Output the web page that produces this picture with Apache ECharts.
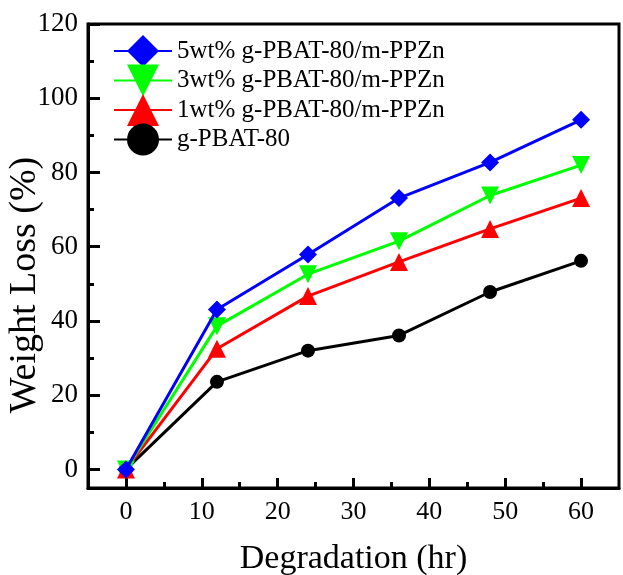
<!DOCTYPE html>
<html>
<head>
<meta charset="utf-8">
<script src="https://cdn.jsdelivr.net/npm/echarts@6/dist/echarts.min.js"></script>
<style>
  html, body { margin: 0; padding: 0; background: #fff; }
  #chart { width: 623px; height: 575px; }
</style>
</head>
<body>
<div id="chart"></div>
<script>
// degradation time (hr)
const hours = [0, 12, 24, 36, 48, 60];
// weight loss (%) per sample
const pbat5 = [0, 43.1, 57.9, 73.1, 82.7, 94.2];
const pbat3 = [0, 38.6, 52.6, 61.5, 73.8, 82.0];
const pbat1 = [0, 32.5, 46.7, 55.9, 64.8, 73.1];
const pbat0 = [0, 23.6, 32.0, 36.1, 47.8, 56.2];
const seriesNames = ['5wt% g-PBAT-80/m-PPZn', '3wt% g-PBAT-80/m-PPZn', '1wt% g-PBAT-80/m-PPZn', 'g-PBAT-80'];
const xTicks = [0, 10, 20, 30, 40, 50, 60];
const xMinor = [5, 15, 25, 35, 45, 55];
const yTicks = [0, 20, 40, 60, 80, 100, 120];
const yMinor = [10, 30, 50, 70, 90, 110];

const font = '"Liberation Serif", "Times New Roman", serif';

function pairs(vals) {
  return hours.map((h, i) => [h, vals[i]]);
}

function tick(len, values) {
  return { show: true, inside: true, length: len, customValues: values, lineStyle: { color: '#000', width: 3 } };
}

const chart = echarts.init(document.getElementById('chart'));

chart.setOption({
  animation: false,
  backgroundColor: '#fff',
  textStyle: { fontFamily: font },
  grid: {
    left: 88, right: 4, top: 24, bottom: 87,
    containLabel: false, outerBoundsMode: 'none',
    show: true, borderColor: '#000', borderWidth: 3, backgroundColor: 'transparent'
  },
  legend: {
    data: seriesNames,
    orient: 'vertical',
    left: 113, top: 35, padding: 0,
    itemWidth: 58, itemHeight: 40, itemGap: -2.5,
    textStyle: { fontFamily: font, fontSize: 25, color: '#000' }
  },
  xAxis: [
    {
      type: 'value', min: -5, max: 65,
      name: 'Degradation (hr)', nameLocation: 'middle', nameGap: 54, nameMoveOverlap: false,
      nameTextStyle: { fontFamily: font, fontSize: 34, color: '#000' },
      axisLine: { show: true, onZero: false, lineStyle: { color: '#000', width: 3 } },
      axisTick: tick(10, xTicks),
      axisLabel: { customValues: xTicks, fontFamily: font, fontSize: 26, color: '#000', margin: 11 },
      splitLine: { show: false }
    },
    {
      type: 'value', min: -5, max: 65, position: 'bottom',
      axisLine: { show: false, onZero: false },
      axisTick: tick(6, xMinor),
      axisLabel: { show: false },
      splitLine: { show: false }
    }
  ],
  yAxis: [
    {
      type: 'value', min: -5, max: 120,
      name: 'Weight Loss (%)', nameLocation: 'middle', nameGap: 44, nameMoveOverlap: false,
      nameTextStyle: { fontFamily: font, fontSize: 38, color: '#000', padding: [0, 58, 0, 0] },
      axisLine: { show: true, onZero: false, lineStyle: { color: '#000', width: 3 } },
      axisTick: tick(12, yTicks),
      axisLabel: { customValues: yTicks, fontFamily: font, fontSize: 27, color: '#000', margin: 10 },
      splitLine: { show: false }
    },
    {
      type: 'value', min: -5, max: 120, position: 'left',
      axisLine: { show: false, onZero: false },
      axisTick: tick(6, yMinor),
      axisLabel: { show: false },
      splitLine: { show: false }
    }
  ],
  series: [
    {
      name: seriesNames[3], type: 'line', data: pairs(pbat0),
      symbol: 'circle', symbolSize: 14,
      itemStyle: { color: '#000' }, lineStyle: { color: '#000', width: 3 }, z: 2
    },
    {
      name: seriesNames[2], type: 'line', data: pairs(pbat1),
      symbol: 'triangle', symbolSize: 18,
      itemStyle: { color: '#ff0000' }, lineStyle: { color: '#ff0000', width: 3 }, z: 3
    },
    {
      name: seriesNames[1], type: 'line', data: pairs(pbat3),
      symbol: 'triangle', symbolSize: 18, symbolRotate: 180,
      itemStyle: { color: '#00ff00' }, lineStyle: { color: '#00ff00', width: 3 }, z: 4
    },
    {
      name: seriesNames[0], type: 'line', data: pairs(pbat5),
      symbol: 'diamond', symbolSize: [18, 18],
      itemStyle: { color: '#0000ff' }, lineStyle: { color: '#0000ff', width: 3 }, z: 5
    }
  ]
});
</script>
</body>
</html>
